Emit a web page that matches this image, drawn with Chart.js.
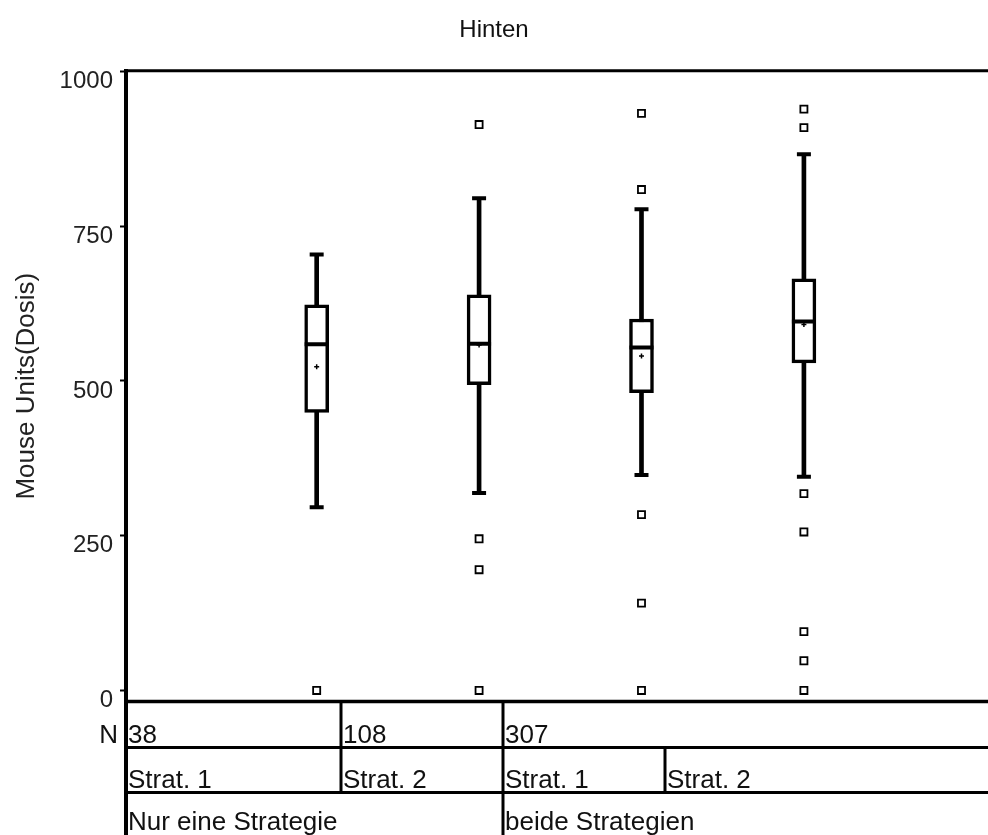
<!DOCTYPE html>
<html>
<head>
<meta charset="utf-8">
<script src="https://cdn.jsdelivr.net/npm/chart.js@4/dist/chart.umd.min.js"></script>
<style>
  html, body { margin: 0; padding: 0; background: #fff; }
  #wrap { width: 988px; height: 835px; }
</style>
</head>
<body>
<div id="wrap"><canvas id="c" width="988" height="835"></canvas></div>
<script>
// ---- data ----
const groupPos = [1, 2, 3, 4];
const nLabels = ['38', '108', '307'];
const stratLabels = ['Strat. 1', 'Strat. 2', 'Strat. 1', 'Strat. 2'];
const strategyLabels = ['Nur eine Strategie', 'beide Strategien'];
const whiskerLow = [296, 319, 348, 345];
const q1 = [449, 494, 481, 529];
const median = [559, 560, 554, 596];
const mean = [523, 558, 540, 591];
const q3 = [623, 639, 600, 665];
const whiskerHigh = [704, 795, 777, 866];
const outliers = [
  [0],
  [914, 245, 195, 0],
  [932, 809, 284, 141, 0],
  [939, 909, 318, 256, 95, 48, 0]
];
const yTicks = [0, 250, 500, 750, 1000];
const titleText = 'Hinten';
const yTitle = 'Mouse Units(Dosis)';

// ---- layout constants (table under the plot) ----
const colEdges = [126, 341, 503, 665, 988];
const FONT = '"Liberation Sans", Arial, sans-serif';

const tablePlugin = {
  id: 'tablePlugin',
  afterDraw(chart) {
    const ctx = chart.ctx;
    const a = chart.chartArea;
    const rows = [a.bottom, a.bottom + 46, a.bottom + 91, 836];
    ctx.save();
    ctx.strokeStyle = '#000';
    ctx.lineCap = 'butt';
    ctx.lineWidth = 3;
    ctx.beginPath(); ctx.moveTo(a.left - 2, a.top); ctx.lineTo(988, a.top); ctx.stroke();
    ctx.lineWidth = 3.5;
    ctx.beginPath(); ctx.moveTo(a.left - 2, rows[0]); ctx.lineTo(988, rows[0]); ctx.stroke();
    ctx.lineWidth = 4;
    ctx.beginPath(); ctx.moveTo(a.left, a.top); ctx.lineTo(a.left, 835); ctx.stroke();
    ctx.lineWidth = 3;
    [rows[1], rows[2]].forEach(y => {
      ctx.beginPath(); ctx.moveTo(a.left, y); ctx.lineTo(988, y); ctx.stroke();
    });
    const vline = (x, y0, y1) => { ctx.beginPath(); ctx.moveTo(x, y0); ctx.lineTo(x, y1); ctx.stroke(); };
    vline(colEdges[1], rows[0], rows[2]);
    vline(colEdges[2], rows[0], 835);
    vline(colEdges[3], rows[1], rows[2]);
    ctx.fillStyle = '#111';
    ctx.font = '26px ' + FONT;
    ctx.textBaseline = 'alphabetic';
    ctx.textAlign = 'right';
    ctx.fillText('N', 118, rows[1] - 5);
    ctx.textAlign = 'left';
    const nCells = [colEdges[0], colEdges[1], colEdges[2]];
    nLabels.forEach((t, i) => ctx.fillText(t, nCells[i] + 2, rows[1] - 5));
    stratLabels.forEach((t, i) => ctx.fillText(t, colEdges[i] + 2, rows[2] - 5));
    const sCells = [colEdges[0], colEdges[2]];
    strategyLabels.forEach((t, i) => ctx.fillText(t, sCells[i] + 2, rows[3] - 6));
    ctx.restore();
  }
};

const whiskerBars = groupPos.map((x, i) => ({ x: x, y: [whiskerLow[i], whiskerHigh[i]] }));
const boxBars = groupPos.map((x, i) => ({ x: x, y: [q1[i], q3[i]] }));
const capPts = [];
groupPos.forEach((x, i) => { capPts.push({ x: x, y: whiskerLow[i] }); capPts.push({ x: x, y: whiskerHigh[i] }); });
const medPts = groupPos.map((x, i) => ({ x: x, y: median[i] }));
const meanPts = groupPos.map((x, i) => ({ x: x, y: mean[i] }));
const outPts = [];
groupPos.forEach((x, i) => outliers[i].forEach(v => outPts.push({ x: x, y: v })));

new Chart(document.getElementById('c'), {
  type: 'bar',
  data: {
    datasets: [
      { type: 'scatter', data: outPts, pointStyle: 'rect', radius: 5, borderWidth: 1.8,
        borderColor: '#000', backgroundColor: '#fff', order: 0 },
      { type: 'scatter', data: meanPts, pointStyle: 'cross', radius: 2.5, borderWidth: 1.5,
        borderColor: '#000', order: 0 },
      { type: 'scatter', data: medPts, pointStyle: 'line', radius: 12, borderWidth: 4,
        borderColor: '#000', order: 0 },
      { type: 'scatter', data: capPts, pointStyle: 'line', radius: 7, borderWidth: 4,
        borderColor: '#000', order: 0 },
      { data: boxBars, backgroundColor: '#fff', borderColor: '#000', borderWidth: 3.5,
        borderSkipped: false, barThickness: 24, grouped: false, order: 1 },
      { data: whiskerBars, backgroundColor: '#000', borderWidth: 0,
        barThickness: 4, grouped: false, order: 2 }
    ]
  },
  options: {
    responsive: false,
    animation: false,
    events: [],
    layout: { padding: { left: 0, right: 0, top: 0, bottom: 133.5 } },
    plugins: {
      legend: { display: false },
      tooltip: { enabled: false },
      title: {
        display: true, text: titleText, color: '#111',
        font: { family: FONT, size: 24, weight: 'normal' },
        padding: { top: 16, bottom: 26 }
      }
    },
    scales: {
      x: { type: 'linear', display: false, offset: false, min: -0.174, max: 5.035 },
      y: {
        min: -17.8, max: 1000.8,
        afterFit(scale) { scale.width = 126; },
        afterBuildTicks(scale) { scale.ticks = yTicks.map(v => ({ value: v })); },
        grid: { drawOnChartArea: false, drawTicks: true, tickLength: 6, tickWidth: 2, tickColor: '#000' },
        border: { display: true, width: 4, color: '#000' },
        ticks: { color: '#222', padding: 7, labelOffset: 10, font: { family: FONT, size: 24 },
                 callback: v => String(v) },
        title: { display: true, text: yTitle, color: '#222', padding: { top: 11, bottom: 0 },
                 font: { family: FONT, size: 26 } }
      }
    }
  },
  plugins: [tablePlugin]
});
</script>
</body>
</html>
